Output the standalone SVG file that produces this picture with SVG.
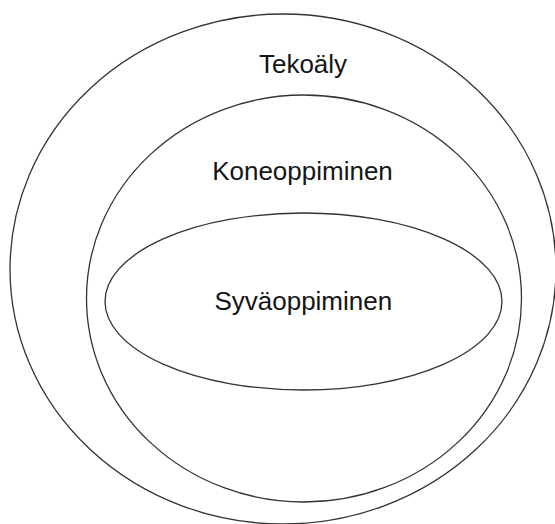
<svg xmlns="http://www.w3.org/2000/svg" width="555" height="524" viewBox="0 0 555 524">
  <style>
    .ring { fill: none; stroke: #333; stroke-width: 1.3; }
    .label { font-family: "Liberation Sans", Arial, sans-serif; font-size: 26px; fill: #151515; text-anchor: middle; }
  </style>
  <rect width="555" height="524" fill="#ffffff"/>
  <!-- Nested sets: AI contains ML contains DL -->
  <g id="tekoaly">
    <ellipse class="ring" cx="283" cy="269" rx="273" ry="255"/>
    <text class="label" x="303" y="72.5">Tekoäly</text>
  </g>
  <g id="koneoppiminen">
    <ellipse class="ring" cx="304" cy="298.5" rx="217.5" ry="203.5"/>
    <text class="label" x="302.5" y="180">Koneoppiminen</text>
  </g>
  <g id="syvaoppiminen">
    <ellipse class="ring" cx="303.5" cy="301.5" rx="198.5" ry="88.5"/>
    <text class="label" x="303.3" y="310">Syväoppiminen</text>
  </g>
  <g id="connectors"/>
</svg>
